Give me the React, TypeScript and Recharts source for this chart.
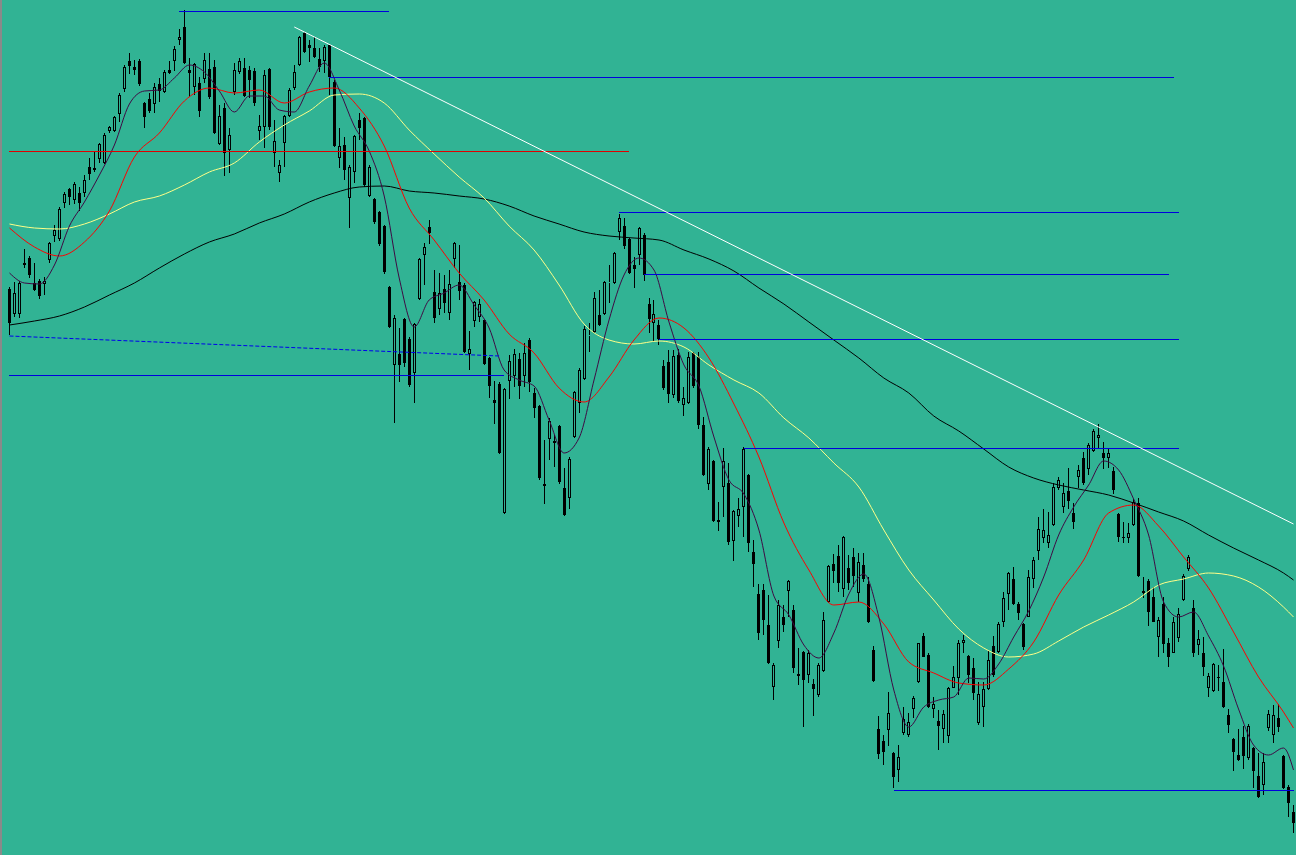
import { ComposedChart, Bar, Line, XAxis, YAxis, ReferenceLine } from 'recharts';

// price units are arbitrary (no axis on the screen), one unit ~ one pixel
const open = [
  711, 686, 686, 737, 742, 717, 719, 716, 740, 764,
  761, 797, 811, 800, 807, 807, 833, 832, 841, 837,
  869, 869, 886, 911, 939, 933, 939, 897, 901, 896,
  916, 908, 930, 939, 960, 973, 930, 913, 917, 921,
  931, 933, 856, 892, 850, 908, 928, 932, 930, 929,
  869, 873, 931, 847, 827, 857, 884, 912, 935, 967,
  955, 952, 941, 939, 955, 918, 842, 855, 802, 828,
  880, 882, 804, 801, 788, 774, 713, 635, 646, 681,
  661, 627, 701, 745, 773, 708, 691, 711, 687, 741,
  718, 715, 646, 679, 683, 680, 642, 600, 616, 487,
  619, 624, 641, 624, 660, 607, 594, 516, 561, 557,
  574, 512, 502, 563, 597, 621, 664, 668, 685, 686,
  717, 717, 768, 774, 761, 735, 745, 765, 696, 677,
  675, 634, 638, 605, 645, 595, 597, 647, 643, 575,
  516, 539, 480, 513, 517, 459, 484, 493, 525, 448,
  406, 410, 375, 313, 359, 383, 409, 390, 326, 348,
  325, 316, 305, 329, 398, 436, 444, 411, 432, 443,
  407, 435, 416, 350, 271, 259, 270, 247, 230, 267,
  265, 291, 318, 364, 345, 291, 279, 271, 264, 312,
  322, 357, 344, 332, 277, 293, 311, 354, 348, 378,
  406, 421, 396, 376, 383, 421, 449, 462, 457, 475,
  512, 493, 509, 487, 523, 542, 531, 549, 562, 547,
  542, 529, 486, 463, 462, 475, 497, 409, 419, 403,
  363, 396, 357, 347, 362, 400, 431, 392, 355, 347,
  312, 309, 323, 318, 285, 261, 245, 263, 242, 252,
  224, 215, 272, 265, 282, 244, 213, 188,
];

const high = [
  713, 718, 719, 751, 744, 737, 721, 723, 758, 775,
  793, 808, 812, 818, 813, 825, 842, 848, 857, 867,
  874, 884, 907, 935, 947, 940, 941, 898, 907, 917,
  922, 930, 939, 954, 971, 990, 942, 937, 923, 947,
  947, 940, 895, 897, 872, 937, 942, 942, 934, 932,
  885, 930, 932, 880, 840, 885, 912, 935, 964, 968,
  960, 963, 952, 955, 956, 920, 872, 863, 835, 865,
  887, 883, 835, 802, 789, 775, 714, 685, 672, 682,
  663, 677, 742, 757, 780, 730, 727, 725, 730, 758,
  755, 717, 669, 699, 701, 681, 643, 619, 618, 612,
  645, 651, 647, 657, 662, 612, 595, 560, 582, 565,
  575, 532, 543, 609, 632, 674, 677, 708, 710, 719,
  735, 748, 786, 782, 762, 743, 773, 767, 702, 700,
  680, 640, 650, 650, 651, 613, 648, 648, 648, 583,
  553, 540, 498, 552, 537, 490, 502, 553, 526, 460,
  416, 416, 405, 337, 400, 395, 420, 395, 352, 349,
  350, 321, 337, 388, 435, 446, 455, 464, 445, 452,
  447, 447, 423, 354, 284, 265, 308, 248, 255, 293,
  287, 304, 357, 367, 347, 303, 290, 290, 313, 334,
  360, 365, 345, 342, 318, 318, 350, 364, 378, 408,
  428, 433, 398, 377, 430, 443, 483, 491, 488, 517,
  523, 517, 532, 497, 535, 548, 557, 571, 576, 558,
  552, 533, 487, 478, 477, 501, 502, 423, 421, 413,
  383, 403, 362, 383, 392, 426, 445, 400, 370, 363,
  327, 337, 335, 351, 291, 262, 271, 274, 276, 253,
  247, 247, 290, 295, 296, 245, 215, 195,
];

const low = [
  665, 683, 682, 732, 722, 709, 701, 705, 737, 758,
  759, 792, 795, 796, 789, 803, 820, 828, 837, 836,
  867, 868, 878, 908, 926, 925, 914, 872, 887, 887,
  898, 907, 926, 929, 955, 936, 903, 905, 883, 917,
  901, 866, 855, 824, 827, 905, 926, 903, 902, 894,
  860, 852, 870, 833, 818, 833, 883, 910, 934, 947,
  938, 942, 928, 927, 905, 853, 832, 820, 772, 817,
  860, 813, 803, 776, 754, 726, 672, 577, 618, 633,
  613, 597, 700, 715, 756, 677, 685, 687, 680, 732,
  700, 647, 630, 673, 678, 635, 602, 576, 546, 486,
  601, 613, 601, 613, 608, 582, 520, 496, 540, 533,
  516, 484, 491, 562, 587, 620, 648, 667, 674, 685,
  697, 716, 760, 751, 726, 712, 735, 719, 667, 658,
  655, 610, 597, 602, 597, 584, 596, 612, 571, 524,
  510, 478, 469, 483, 455, 439, 473, 463, 448, 413,
  360, 365, 336, 300, 352, 368, 383, 327, 315, 273,
  317, 284, 303, 328, 397, 417, 408, 403, 410, 413,
  398, 418, 377, 318, 241, 235, 254, 212, 218, 265,
  263, 282, 317, 343, 292, 282, 250, 257, 257, 312,
  305, 347, 317, 300, 275, 273, 310, 323, 347, 373,
  390, 395, 380, 350, 383, 412, 440, 457, 452, 474,
  510, 487, 491, 471, 512, 515, 525, 548, 551, 531,
  532, 506, 458, 457, 457, 474, 423, 402, 374, 378,
  343, 347, 333, 347, 358, 399, 429, 343, 345, 324,
  303, 308, 309, 292, 267, 229, 239, 231, 240, 212,
  202, 205, 269, 257, 268, 211, 183, 167,
];

const close = [
  677, 707, 717, 735, 725, 710, 704, 719, 757, 770,
  791, 806, 803, 816, 797, 820, 826, 830, 856, 865,
  873, 883, 905, 933, 934, 930, 916, 883, 889, 913,
  909, 928, 927, 951, 963, 937, 927, 936, 889, 940,
  903, 867, 884, 847, 865, 930, 939, 904, 920, 897,
  874, 925, 873, 859, 835, 884, 910, 928, 963, 948,
  952, 943, 933, 953, 923, 854, 854, 830, 833, 864,
  872, 815, 833, 778, 756, 728, 673, 682, 635, 637,
  615, 676, 741, 753, 767, 682, 707, 697, 716, 757,
  709, 648, 651, 698, 696, 636, 614, 597, 547, 611,
  639, 646, 614, 647, 618, 592, 522, 514, 579, 559,
  518, 485, 541, 608, 630, 671, 665, 702, 675, 718,
  718, 747, 782, 754, 727, 731, 772, 725, 681, 686,
  661, 612, 606, 644, 599, 602, 643, 614, 575, 525,
  551, 479, 478, 539, 458, 489, 491, 551, 457, 436,
  367, 380, 337, 335, 395, 375, 419, 332, 324, 320,
  347, 311, 335, 380, 434, 429, 417, 463, 417, 424,
  438, 421, 378, 319, 246, 248, 287, 223, 243, 281,
  278, 302, 357, 343, 293, 296, 274, 286, 312, 323,
  357, 360, 325, 307, 306, 311, 340, 325, 376, 402,
  427, 396, 387, 353, 423, 440, 471, 470, 465, 513,
  520, 507, 499, 478, 530, 517, 555, 569, 565, 542,
  547, 510, 463, 462, 467, 498, 424, 407, 388, 378,
  380, 356, 343, 378, 386, 424, 443, 347, 361, 333,
  324, 336, 322, 293, 275, 248, 240, 244, 274, 229,
  203, 238, 286, 285, 273, 212, 197, 177,
];

// moving averages: [bar index, value]
const maFast: [number, number][] = [
  [0, 727], [3, 717], [6, 716], [9, 735], [12, 774], [15, 798], [18, 825], [21, 855],
  [24, 896], [27, 909], [30, 910], [33, 922], [36, 935], [39, 928], [42, 909], [45, 888],
  [48, 904], [51, 904], [54, 890], [57, 888], [60, 914], [63, 937], [66, 910], [69, 874],
  [72, 849], [75, 804], [78, 722], [81, 673], [84, 700], [87, 707], [90, 715], [93, 695],
  [96, 672], [99, 630], [102, 620], [105, 614], [108, 580], [111, 547], [114, 562], [117, 620],
  [120, 680], [123, 725], [126, 742], [129, 730], [132, 678], [135, 635], [138, 614], [141, 563],
  [144, 520], [147, 506], [150, 470], [153, 404], [156, 385], [159, 355], [162, 342], [165, 367],
  [168, 406], [171, 426], [174, 383], [177, 310], [180, 273], [183, 293], [186, 300], [189, 303],
  [192, 322], [195, 321], [198, 336], [201, 363], [204, 389], [207, 423], [210, 465], [213, 493],
  [216, 515], [219, 539], [222, 530], [225, 501], [228, 465], [231, 398], [234, 383], [237, 388],
  [240, 364], [243, 334], [246, 291], [249, 255], [252, 245], [255, 252], [257, 230],
];

const maMid: [number, number][] = [
  [0, 772], [5, 753], [10, 744], [15, 758], [20, 789], [25, 843], [30, 867], [35, 899],
  [40, 912], [45, 907], [50, 910], [55, 897], [60, 908], [65, 912], [70, 892], [75, 854],
  [80, 792], [85, 760], [90, 727], [95, 700], [100, 666], [105, 647], [110, 612], [115, 598],
  [120, 623], [125, 660], [130, 682], [135, 672], [140, 642], [145, 596], [150, 543], [155, 477],
  [160, 430], [165, 395], [170, 398], [175, 376], [180, 338], [185, 327], [190, 317], [195, 315],
  [200, 331], [205, 358], [210, 405], [215, 440], [220, 487], [225, 495], [230, 474], [235, 443],
  [240, 412], [245, 368], [250, 323], [255, 288], [257, 272],
];

const maSlow: [number, number][] = [
  [0, 776], [5, 772], [10, 771], [15, 776], [20, 786], [25, 798], [30, 804], [35, 815],
  [40, 828], [45, 837], [50, 858], [55, 875], [60, 889], [65, 905], [70, 906], [75, 897],
  [80, 870], [85, 846], [90, 823], [95, 802], [100, 774], [105, 750], [110, 715], [115, 676],
  [120, 660], [125, 656], [130, 659], [135, 653], [140, 635], [145, 620], [150, 607], [155, 582],
  [160, 562], [165, 537], [170, 513], [175, 470], [180, 430], [185, 400], [190, 371], [195, 352],
  [200, 343], [205, 346], [210, 359], [215, 373], [220, 385], [225, 398], [230, 415], [235, 421],
  [240, 427], [245, 424], [250, 413], [255, 393], [257, 383],
];

const maLong: [number, number][] = [
  [0, 675], [5, 679], [10, 684], [15, 693], [20, 705], [25, 717], [30, 732], [35, 746],
  [40, 758], [45, 766], [50, 777], [55, 786], [60, 798], [65, 807], [70, 813], [75, 814],
  [80, 809], [85, 807], [90, 804], [95, 801], [100, 794], [105, 784], [110, 776], [115, 768],
  [120, 764], [125, 762], [130, 760], [135, 750], [140, 741], [145, 729], [150, 712], [155, 696],
  [160, 678], [165, 660], [170, 642], [175, 622], [180, 607], [185, 584], [190, 569], [195, 551],
  [200, 533], [205, 522], [210, 515], [215, 510], [220, 505], [225, 497], [230, 488], [235, 479],
  [240, 465], [245, 452], [250, 440], [255, 427], [257, 420],
];

// horizontal levels drawn on the chart: [from bar, to bar, price]
const blueLevels: [number, number, number][] = [
  [34, 76, 989],
  [64, 233, 923],
  [122, 234, 788],
  [127, 232, 726],
  [130, 234, 661],
  [0, 99, 625],
  [147, 234, 552],
  [177, 257, 210],
];
const redLevels: [number, number, number][] = [[0, 124, 849]];

const dashedLine: [number, number][] = [[0, 664], [98, 644]];
const trendLine: [number, number][] = [[57, 973], [257, 476]];

const BG = '#31b394';

type Row = {
  i: number;
  open: number;
  high: number;
  low: number;
  close: number;
  fast: number | null;
  mid: number | null;
  slow: number | null;
  long: number | null;
};

const rows: Row[] = open.map((o, i) => ({
  i,
  open: o,
  high: high[i],
  low: low[i],
  close: close[i],
  fast: null,
  mid: null,
  slow: null,
  long: null,
}));
maFast.forEach(([k, v]) => (rows[k].fast = v));
maMid.forEach(([k, v]) => (rows[k].mid = v));
maSlow.forEach(([k, v]) => (rows[k].slow = v));
maLong.forEach(([k, v]) => (rows[k].long = v));

const Candle = (props: any) => {
  const { x, y, width, height, payload } = props;
  if (!payload) return null;
  const { open, close, high, low } = payload;
  const top = Math.min(y, y + height);
  const bottom = Math.max(y, y + height);
  const span = high - low || 1;
  const py = (v: number) => top + ((high - v) / span) * (bottom - top);
  const cx = Math.floor(x + width / 2) + 0.5;
  const bull = close > open;
  const bodyTop = Math.round(py(Math.max(open, close)));
  const bodyBot = Math.max(Math.round(py(Math.min(open, close))), bodyTop + 1);
  const hy = Math.round(py(high));
  const ly = Math.round(py(low));
  return (
    <g shapeRendering="crispEdges">
      {hy < bodyTop && <line x1={cx} x2={cx} y1={hy} y2={bodyTop} stroke="#000" />}
      {ly > bodyBot && <line x1={cx} x2={cx} y1={bodyBot} y2={ly} stroke="#000" />}
      {bull ? (
        <rect
          x={cx - 1}
          y={bodyTop + 0.5}
          width={2}
          height={Math.max(0, bodyBot - bodyTop - 1)}
          fill={BG}
          stroke="#000"
        />
      ) : (
        <rect x={cx - 1.5} y={bodyTop} width={3} height={bodyBot - bodyTop} fill="#000" />
      )}
    </g>
  );
};

export default function App() {
  return (
    <div
      style={{
        position: 'absolute',
        left: 0,
        top: 0,
        width: 1296,
        height: 855,
        background: BG,
        overflow: 'hidden',
      }}
    >
      <div style={{ position: 'absolute', left: 0, top: 0, width: 2, height: 855, background: '#8a8a8a' }} />
      <ComposedChart width={1296} height={855} data={rows} margin={{ top: 0, right: 0, bottom: 0, left: 7 }}>
        <XAxis dataKey="i" hide />
        <YAxis hide type="number" domain={[145, 1000]} allowDataOverflow />
        <Bar
          dataKey={(d: Row) => [d.low, d.high]}
          shape={(p: any) => <Candle {...p} />}
          isAnimationActive={false}
        />
        <Line dataKey="long" type="monotone" stroke="#000000" strokeWidth={1} dot={false} activeDot={false} connectNulls isAnimationActive={false} />
        <Line dataKey="slow" type="monotone" stroke="#ffff88" strokeWidth={1} dot={false} activeDot={false} connectNulls isAnimationActive={false} />
        <Line dataKey="mid" type="monotone" stroke="#ff0000" strokeWidth={1} dot={false} activeDot={false} connectNulls isAnimationActive={false} />
        <Line dataKey="fast" type="monotone" stroke="#3f0a44" strokeWidth={1} dot={false} activeDot={false} connectNulls isAnimationActive={false} />
        {blueLevels.map(([a, b, v], n) => (
          <ReferenceLine
            key={'b' + n}
            segment={[{ x: a, y: v }, { x: b, y: v }]}
            stroke="#0000dd"
            strokeWidth={1}
            shapeRendering="crispEdges"
          />
        ))}
        {redLevels.map(([a, b, v], n) => (
          <ReferenceLine
            key={'r' + n}
            segment={[{ x: a, y: v }, { x: b, y: v }]}
            stroke="#e00000"
            strokeWidth={1}
            shapeRendering="crispEdges"
          />
        ))}
        <ReferenceLine
          segment={dashedLine.map(([x, y]) => ({ x, y }))}
          stroke="#0000ee"
          strokeDasharray="4 2"
          strokeWidth={1}
        />
        <ReferenceLine segment={trendLine.map(([x, y]) => ({ x, y }))} stroke="#ffffff" strokeWidth={1} />
      </ComposedChart>
    </div>
  );
}
